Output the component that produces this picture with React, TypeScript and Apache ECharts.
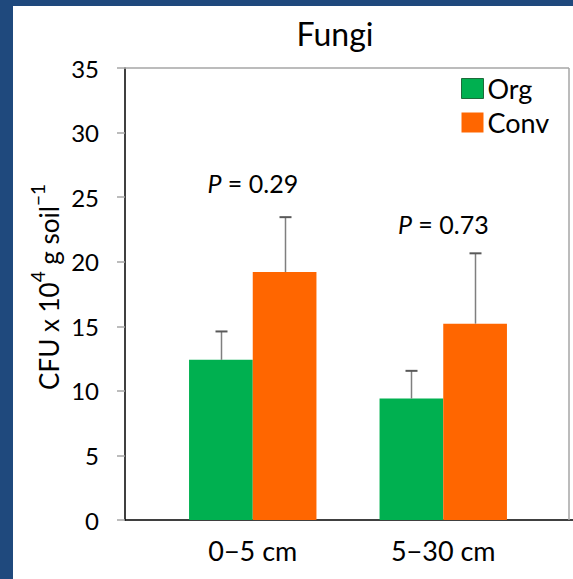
import React, { useEffect, useRef } from "react";
import * as echarts from "echarts";

const categories = ["0\u22125 cm", "5\u221230 cm"];
const seriesNames = ["Org", "Conv"];
const orgValues = [12.4, 9.4];
const orgErrors = [2.2, 2.15];
const convValues = [19.2, 15.2];
const convErrors = [4.25, 5.45];
const pValues = ["0.29", "0.73"];
const pLabelY = [26.1, 22.9];
const yMin = 0;
const yMax = 35;
const yInterval = 5;

const FONT = "Lato, 'Open Sans', sans-serif";
const GREEN = "#00B050";
const ORANGE = "#FF6600";
const BAR_FRAC = 0.3344;

export default function App() {
  const ref = useRef<HTMLDivElement>(null);
  useEffect(() => {
    if (!ref.current) return;
    const chart = echarts.init(ref.current, null, { renderer: "svg" });
    const errData: any[] = [];
    categories.forEach((_, i) => {
      errData.push([i, orgValues[i], orgErrors[i], 0]);
      errData.push([i, convValues[i], convErrors[i], 1]);
    });
    const pData = categories.map((_, i) => [i, pLabelY[i], pValues[i]]);
    const option: any = {
      animation: false,
      backgroundColor: "#fff",
      textStyle: { fontFamily: FONT },
      graphic: [
        { type: "rect", shape: { x: 0, y: 0, width: 13, height: 579 }, style: { fill: "#1F497D" }, z: 100 },
        { type: "rect", shape: { x: 0, y: 0, width: 573, height: 6 }, style: { fill: "#1F497D" }, z: 100 },
        { type: "line", shape: { x1: 125, y1: 68, x2: 569, y2: 68 }, style: { stroke: "#A6A6A6", lineWidth: 1.5 }, z: 1 },
        { type: "line", shape: { x1: 569, y1: 68, x2: 569, y2: 520 }, style: { stroke: "#A6A6A6", lineWidth: 1.5 }, z: 1 },
        {
          type: "text",
          x: 335,
          y: 33,
          style: { text: "Fungi", fontSize: 32, fontFamily: FONT, fill: "#000", align: "center", verticalAlign: "middle" },
        },
        {
          type: "text",
          x: 45,
          y: 287,
          rotation: Math.PI / 2,
          style: {
            text: "{n|CFU x 10}{s|4}{n| g soil}{s|\u22121}",
            align: "center",
            verticalAlign: "middle",
            fill: "#000",
            rich: {
              n: { fontSize: 26, fontFamily: FONT, lineHeight: 34, verticalAlign: "bottom", fill: "#000" },
              s: { fontSize: 19, fontFamily: FONT, lineHeight: 34, verticalAlign: "top", fill: "#000" },
            },
          },
        },
      ],
      legend: {
        orient: "vertical",
        left: 456,
        top: 70,
        itemWidth: 22,
        itemHeight: 20,
        itemGap: 7,
        icon: "rect",
        textStyle: { fontSize: 27, fontFamily: FONT, color: "#000", lineHeight: 20, padding: [0, 0, 4, -1] },
        data: [
          { name: seriesNames[0], itemStyle: { borderColor: "#1E6B3A", borderWidth: 1 } },
          { name: seriesNames[1] },
        ],
      },
      grid: [
        { left: 125, top: 68, width: 448, height: 452 },
        { left: 157.5, top: 68, width: 381, height: 452 },
      ],
      xAxis: [
        {
          type: "category",
          gridIndex: 0,
          data: categories,
          axisLine: { show: true, lineStyle: { color: "#000", width: 1.5 } },
          axisTick: { show: false },
          axisLabel: { show: false },
        },
        {
          type: "category",
          gridIndex: 1,
          data: categories,
          axisLine: { show: false },
          axisTick: { show: false },
          axisLabel: { fontSize: 27, fontFamily: FONT, color: "#000", margin: 17 },
        },
      ],
      yAxis: [
        {
          type: "value",
          gridIndex: 0,
          min: yMin,
          max: yMax,
          interval: yInterval,
          axisLine: { show: true, lineStyle: { color: "#000", width: 1.5 } },
          axisTick: { show: true, inside: false, length: 8, lineStyle: { color: "#A6A6A6", width: 1.5 } },
          axisLabel: { fontSize: 24, fontFamily: FONT, color: "#000", margin: 26 },
          splitLine: { show: false },
        },
        {
          type: "value",
          gridIndex: 1,
          min: yMin,
          max: yMax,
          interval: yInterval,
          show: false,
          splitLine: { show: false },
        },
      ],
      series: [
        {
          name: seriesNames[0],
          type: "bar",
          xAxisIndex: 1,
          yAxisIndex: 1,
          data: orgValues,
          barWidth: (BAR_FRAC * 100).toFixed(2) + "%",
          barGap: "0%",
          itemStyle: { color: GREEN },
        },
        {
          name: seriesNames[1],
          type: "bar",
          xAxisIndex: 1,
          yAxisIndex: 1,
          data: convValues,
          barWidth: (BAR_FRAC * 100).toFixed(2) + "%",
          barGap: "0%",
          itemStyle: { color: ORANGE },
        },
        {
          type: "custom",
          xAxisIndex: 1,
          yAxisIndex: 1,
          data: errData,
          z: 5,
          renderItem: (params: any, api: any) => {
            const i = api.value(0);
            const v = api.value(1);
            const e = api.value(2);
            const s = api.value(3);
            const band = api.size([1, 0])[0];
            const off = (s === 0 ? -0.5 : 0.5) * band * BAR_FRAC;
            const base = api.coord([i, v]);
            const top = api.coord([i, v + e]);
            const x = Math.round(base[0] + off) + 0.5;
            return {
              type: "group",
              children: [
                { type: "line", shape: { x1: x, y1: base[1], x2: x, y2: top[1] }, style: { stroke: "#7F7F7F", lineWidth: 1.5 } },
                { type: "line", shape: { x1: x - 6, y1: top[1], x2: x + 6, y2: top[1] }, style: { stroke: "#595959", lineWidth: 2 } },
              ],
            };
          },
        },
        {
          type: "custom",
          xAxisIndex: 1,
          yAxisIndex: 1,
          data: pData,
          z: 6,
          renderItem: (params: any, api: any) => {
            const i = api.value(0);
            const y = api.value(1);
            const p = api.coord([i, y]);
            const txt = pValues[params.dataIndex];
            return {
              type: "text",
              x: p[0],
              y: p[1],
              style: {
                text: "{i|P}{n| = " + txt + "}",
                align: "center",
                verticalAlign: "middle",
                fill: "#000",
                rich: {
                  i: { fontSize: 25, fontFamily: FONT, fontStyle: "italic", fill: "#000" },
                  n: { fontSize: 25, fontFamily: FONT, fill: "#000" },
                },
              },
            };
          },
        },
      ],
    };
    chart.setOption(option);
    return () => chart.dispose();
  }, []);
  return (
    <div
      ref={ref}
      style={{ position: "absolute", left: 0, top: 0, width: 573, height: 579 }}
    />
  );
}
